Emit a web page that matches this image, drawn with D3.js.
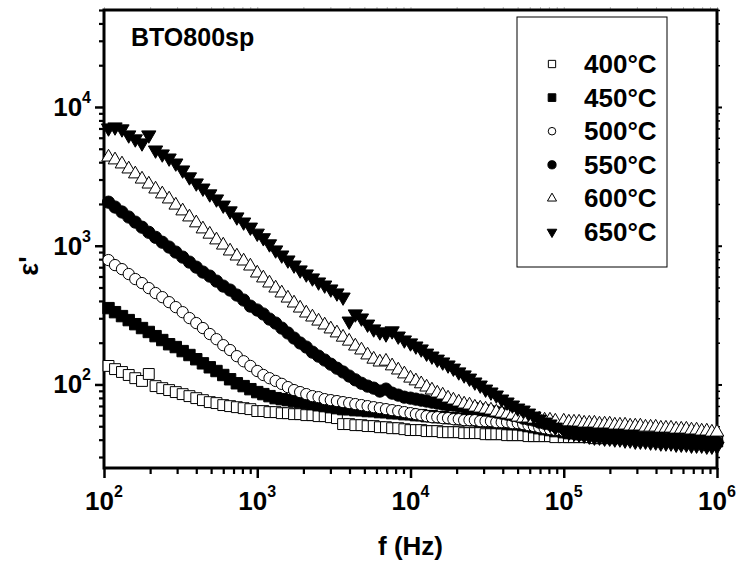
<!DOCTYPE html>
<html>
<head>
<meta charset="utf-8">
<script src="https://cdn.jsdelivr.net/npm/d3@7"></script>
<style>
  body { margin: 0; background: #fff; }
  text { font-family: Arial, "Liberation Sans", sans-serif; font-weight: bold; fill: #000; }
</style>
</head>
<body>
<svg id="chart" width="737" height="566"></svg>
<script>
// frequency sweep (Hz), shared by all temperatures
const freqs = [107,118,131,145,160,177,196,217,240,266,294,326,361,400,442,490,542,600,665,736,815,902,
  1000,1096,1202,1318,1445,1585,1738,1905,2089,2291,2512,2754,3020,3311,3631,3981,4365,4786,5248,5754,6310,6918,7586,8318,9120,
  10000,10840,11750,12740,13800,14960,16220,17580,19050,20650,22390,24270,26300,28510,30900,33500,36310,39360,42660,46240,50120,54330,58880,63830,69180,74990,81280,88100,
  100000,108000,116600,125900,135900,146800,158500,171100,184800,199500,215400,232600,251200,271200,292900,316200,341500,368700,398100,429900,464200,501200,541200,584300,631000,681300,735600,794300,857700,926100,1000000];

// real permittivity at each temperature
const eps400 = [136,129,123,117,111,106,119,97.3,94.1,91.1,88.1,85.2,82.4,79.7,77.1,74.6,73.4,71.0,69.8,68.6,67.5,66.4,
  64.3,64.3,63.2,63.2,62.1,62.1,61.1,61.1,60.1,60.1,59.1,59.1,58.1,57.2,51.8,51.8,50.9,50.9,50.1,50.1,49.2,49.2,48.4,48.4,47.6,
  46.9,46.9,46.9,46.1,46.1,46.1,45.3,45.3,45.3,45.3,44.6,44.6,44.6,44.6,43.8,43.8,43.8,43.8,43.1,43.1,43.1,43.1,42.4,42.4,42.4,42.4,42.4,41.7,
  41.7,41.7,41.7,41.7,41.7,41.7,41.0,41.0,41.0,41.0,41.0,41.0,41.0,41.0,41.0,41.0,41.0,41.0,40.4,40.4,40.4,40.4,40.4,40.4,39.7,39.7,39.7,39.7,39.7,39.7,39.7];

const eps450 = [355,332,311,291,272,255,239,223,209,195,186,174,163,152,142,133,125,117,109,102,97.3,92.5,
  88.1,85.2,82.4,79.7,78.4,77.1,75.9,74.6,73.4,72.2,71.0,69.8,68.6,67.5,66.4,66.4,65.3,65.3,64.3,64.3,63.2,63.2,62.1,62.1,61.1,
  61.1,60.1,60.1,59.1,59.1,58.1,58.1,57.2,57.2,56.2,56.2,55.3,55.3,54.4,54.4,53.5,53.5,52.6,52.6,51.8,51.8,50.9,50.1,49.2,48.4,47.6,46.9,46.1,
  45.3,44.6,44.6,43.8,43.8,43.8,43.1,43.1,43.1,42.4,42.4,42.4,41.7,41.7,41.7,41.7,41.0,41.0,41.0,40.4,40.4,40.4,40.4,39.7,39.7,39.7,39.7,39.0,39.0,39.0,39.0];

const eps500 = [788,725,678,625,575,538,495,456,426,392,361,332,301,277,255,231,212,192,177,160,147,136,
  125,117,111,106,101,95.7,91.1,88.1,85.2,82.4,81.0,78.4,77.1,75.9,74.6,73.4,72.2,71.0,69.8,68.6,67.5,66.4,65.3,64.3,63.2,
  62.1,61.1,60.1,59.1,58.1,58.1,57.2,57.2,56.2,56.2,55.3,55.3,55.3,54.4,54.4,54.4,53.5,53.5,53.5,52.6,52.6,51.8,50.9,50.1,49.2,48.4,47.6,46.9,
  46.1,46.1,45.3,45.3,44.6,44.6,44.6,43.8,43.8,43.8,43.1,43.1,43.1,43.1,42.4,42.4,42.4,41.7,41.7,41.7,41.7,41.0,41.0,41.0,41.0,40.4,40.4,40.4,39.7,39.7,39.7];

const eps550 = [2060,1900,1750,1610,1480,1360,1250,1150,1060,978,900,828,762,701,646,604,556,512,479,441,406,367,
  344,322,296,277,255,235,216,199,186,171,160,150,140,131,123,115,108,102,97.3,94.1,89.6,92.6,86.6,83.8,81.0,
  79.7,78.4,77.1,75.9,74.6,73.4,72.2,71.0,71.0,69.8,68.6,67.5,67.5,66.4,65.3,64.3,63.2,62.1,61.1,60.1,59.1,57.2,56.2,55.3,53.5,52.6,51.8,50.1,
  48.4,47.6,46.9,46.9,46.1,45.3,45.3,44.6,44.6,43.8,43.8,43.1,43.1,43.1,42.4,42.4,41.7,41.7,41.0,41.0,40.4,40.4,40.4,39.7,39.7,39.7,39.0,39.0,39.0,38.4,38.4];

const eps600 = [4350,4150,3880,3570,3290,3020,2780,2560,2360,2170,1960,1780,1610,1460,1320,1210,1100,1010,915,842,775,713,
  635,585,538,495,456,419,386,355,327,306,286,268,251,235,219,205,189,177,163,152,145,147,136,127,119,
  111,106,101,95.7,91.1,86.6,83.8,79.7,77.1,74.6,72.2,71.0,68.6,67.5,66.4,65.3,63.2,62.1,61.1,60.1,58.1,57.2,57.2,56.2,56.2,55.3,55.3,54.4,
  54.4,53.5,53.5,53.5,52.6,52.6,52.6,51.8,51.8,51.8,50.9,50.9,50.9,50.1,50.1,50.1,49.2,49.2,49.2,48.4,48.4,48.4,47.6,47.6,47.6,46.9,46.9,46.1,46.1,45.3,45.3];

const eps650 = [7050,7170,6940,6280,5880,5500,6280,4890,4580,4280,3940,3510,3130,2830,2600,2360,2170,1960,1780,1610,1480,1360,
  1230,1140,1030,931,856,788,725,668,625,585,547,520,487,456,426,286,322,301,272,251,239,231,243,223,209,
  199,189,180,168,160,152,145,138,131,123,117,111,104,98.9,92.5,88.1,83.8,78.4,74.6,71.0,67.5,65.3,62.1,59.1,56.2,53.5,51.8,49.2,
  46.9,45.3,44.6,43.8,43.1,42.4,41.7,41.7,41.0,41.0,40.4,40.4,39.7,39.7,39.0,39.0,39.0,38.4,38.4,37.8,37.8,37.8,37.1,37.1,37.1,36.5,36.5,36.5,35.9,35.9,35.9];

const seriesLabels = ['400°C', '450°C', '500°C', '550°C', '600°C', '650°C'];
const xMajor = [1e2, 1e3, 1e4, 1e5, 1e6];
const yMajor = [1e2, 1e3, 1e4];

const allSeries = [eps400, eps450, eps500, eps550, eps600, eps650];
// marker look for each temperature, same order as the labels
const markers = [
  { type: d3.symbolSquare, size: 118, fill: '#fff', rot: 0 },
  { type: d3.symbolSquare, size: 130, fill: '#000', rot: 0 },
  { type: d3.symbolCircle, size: 100, fill: '#fff', rot: 0 },
  { type: d3.symbolCircle, size: 118, fill: '#000', rot: 0 },
  { type: d3.symbolTriangle, size: 80, fill: '#fff', rot: 0 },
  { type: d3.symbolTriangle, size: 88, fill: '#000', rot: 180 }
];

const svg = d3.select('#chart');
const plotLeft = 104, plotRight = 717, plotTop = 10, plotBottom = 468;

const x = d3.scaleLog().domain([100, 1e6]).range([plotLeft, plotRight]);
const y = d3.scaleLog().domain([25, 5e4]).range([plotBottom, plotTop]);

const isMajor = t => Math.abs(Math.log10(t) - Math.round(Math.log10(t))) < 1e-9;
const xMinor = x.ticks().filter(t => !isMajor(t));
const yMinor = y.ticks().filter(t => !isMajor(t));

// faint ticks on the top edge
svg.append('g')
  .attr('transform', `translate(0,${plotTop})`)
  .call(d3.axisTop(x).tickValues(x.ticks()).tickSize(3).tickSizeOuter(0).tickFormat(''))
  .call(g => g.select('.domain').remove())
  .call(g => g.selectAll('line').attr('stroke', '#bbb').attr('stroke-width', 1));

// right edge ticks
svg.append('g')
  .attr('transform', `translate(${plotRight},0)`)
  .call(d3.axisRight(y).tickValues(yMinor).tickSize(3).tickFormat(''))
  .call(g => g.select('.domain').remove())
  .call(g => g.selectAll('line').attr('stroke-width', 1.5));
svg.append('g')
  .attr('transform', `translate(${plotRight},0)`)
  .call(d3.axisRight(y).tickValues(yMajor).tickSize(5).tickFormat(''))
  .call(g => g.select('.domain').remove())
  .call(g => g.selectAll('line').attr('stroke-width', 2));

// bottom axis: minor then major ticks
svg.append('g')
  .attr('transform', `translate(0,${plotBottom})`)
  .call(d3.axisBottom(x).tickValues(xMinor).tickSize(6).tickFormat(''))
  .call(g => g.select('.domain').remove())
  .call(g => g.selectAll('line').attr('stroke-width', 2.2));
svg.append('g')
  .attr('transform', `translate(0,${plotBottom})`)
  .call(d3.axisBottom(x).tickValues(xMajor).tickSize(10).tickFormat(''))
  .call(g => g.select('.domain').remove())
  .call(g => g.selectAll('line').attr('stroke-width', 2.5));

// left axis
svg.append('g')
  .attr('transform', `translate(${plotLeft},0)`)
  .call(d3.axisLeft(y).tickValues(yMinor).tickSize(5).tickFormat(''))
  .call(g => g.select('.domain').remove())
  .call(g => g.selectAll('line').attr('stroke-width', 2.2));
svg.append('g')
  .attr('transform', `translate(${plotLeft},0)`)
  .call(d3.axisLeft(y).tickValues(yMajor).tickSize(9).tickFormat(''))
  .call(g => g.select('.domain').remove())
  .call(g => g.selectAll('line').attr('stroke-width', 2.5));

// frame
svg.append('rect')
  .attr('x', plotLeft).attr('y', plotTop)
  .attr('width', plotRight - plotLeft).attr('height', plotBottom - plotTop)
  .attr('fill', 'none').attr('stroke', '#000').attr('stroke-width', 3);

// power-of-ten tick labels
function powLabel(sel, t) {
  sel.append('tspan').text('10');
  sel.append('tspan').attr('dy', -13).attr('font-size', 16).text(Math.round(Math.log10(t)));
}

svg.append('g').selectAll('text')
  .data(xMajor)
  .enter()
  .append('text')
  .attr('x', d => x(d))
  .attr('y', 510)
  .attr('text-anchor', 'middle')
  .attr('font-size', 26)
  .each(function(d) { powLabel(d3.select(this), d); });

svg.append('g').selectAll('text')
  .data(yMajor)
  .enter()
  .append('text')
  .attr('x', 91)
  .attr('y', d => y(d) + 9)
  .attr('text-anchor', 'end')
  .attr('font-size', 26)
  .each(function(d) { powLabel(d3.select(this), d); });

// data markers
allSeries.forEach((vals, i) => {
  const m = markers[i];
  const sym = d3.symbol().type(m.type).size(m.size);
  svg.append('g')
    .attr('class', 'series')
    .selectAll('path')
    .data(vals.map((v, j) => [freqs[j], v]))
    .enter()
    .append('path')
    .attr('d', sym)
    .attr('transform', d => `translate(${x(d[0])},${y(d[1])}) rotate(${m.rot})`)
    .attr('fill', m.fill)
    .attr('stroke', '#000')
    .attr('stroke-width', 1);
});

// sample name
svg.append('text')
  .attr('x', 131)
  .attr('y', 46)
  .attr('font-size', 25)
  .text('BTO800sp');

// legend
const legend = svg.append('g');
legend.append('rect')
  .attr('x', 517).attr('y', 17)
  .attr('width', 150).attr('height', 250)
  .attr('fill', '#fff').attr('stroke', '#000').attr('stroke-width', 1);

seriesLabels.forEach((label, i) => {
  const m = markers[i];
  const ly = 64 + i * 33.6;
  legend.append('path')
    .attr('d', d3.symbol().type(m.type).size(m.size * 0.45))
    .attr('transform', `translate(552,${ly}) rotate(${m.rot})`)
    .attr('fill', m.fill)
    .attr('stroke', '#000')
    .attr('stroke-width', 1);
  legend.append('text')
    .attr('x', 584)
    .attr('y', ly + 9)
    .attr('font-size', 26)
    .text(label);
});

// axis titles
svg.append('text')
  .attr('x', (plotLeft + plotRight) / 2)
  .attr('y', 555)
  .attr('text-anchor', 'middle')
  .attr('font-size', 26)
  .text('f (Hz)');

svg.append('text')
  .attr('transform', 'translate(38,266) rotate(-90)')
  .attr('text-anchor', 'middle')
  .attr('font-size', 27)
  .text("ε'");
</script>
</body>
</html>
